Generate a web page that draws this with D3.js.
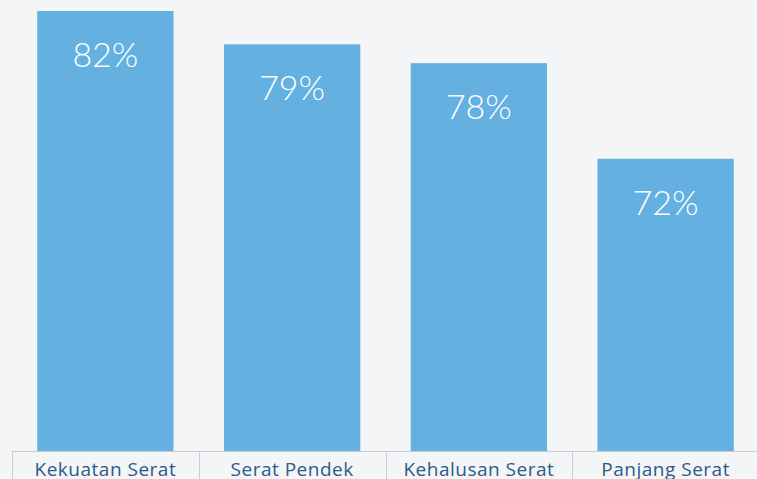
<!DOCTYPE html>
<html><head><meta charset="utf-8">
<script src="https://cdn.jsdelivr.net/npm/d3@7"></script>
<style>html,body{margin:0;padding:0;background:#f4f5f7;}svg{display:block;}</style>
</head><body>
<script>
const categories = ["Kekuatan Serat", "Serat Pendek", "Kehalusan Serat", "Panjang Serat"];
const values = [81.7, 79.4, 78.1, 71.5];
const labels = ["82%", "79%", "78%", "72%"];
const valueDomain = [51.3, 81.7];

const W = 757, H = 479;
const svg = d3.select("body").append("svg").attr("width", W).attr("height", H);
svg.append("rect").attr("width", W).attr("height", H).attr("fill", "#f4f5f7");

const baseY = 451.5;
const x = d3.scaleBand().domain(categories).range([12, 759]).paddingInner(0.27).paddingOuter(0.135);
const xb = d3.scaleBand().domain(categories).range([12, 759]).padding(0);
const y = d3.scaleLinear().domain(valueDomain).range([baseY, 11]);

const data = categories.map((c, i) => ({c, v: values[i], l: labels[i]}));

svg.selectAll("rect.bar").data(data).join("rect").attr("class", "bar")
  .attr("x", d => x(d.c)).attr("width", x.bandwidth())
  .attr("y", d => y(d.v)).attr("height", d => baseY - y(d.v))
  .attr("fill", "#63b0e1");

svg.selectAll("text.val").data(data).join("text").attr("class", "val")
  .attr("x", d => x(d.c) + x.bandwidth() / 2)
  .attr("y", d => y(d.v) + 56)
  .attr("text-anchor", "middle")
  .attr("fill", "#ffffff")
  .attr("font-family", "Lato")
  .attr("font-weight", 300)
  .attr("font-size", 34)
  .text(d => d.l);

// axis lines
svg.append("line").attr("x1", 12).attr("x2", W).attr("y1", baseY).attr("y2", baseY)
  .attr("stroke", "#c9cdd3").attr("stroke-width", 1);
svg.selectAll("line.tick").data(categories).join("line").attr("class", "tick")
  .attr("x1", d => Math.round(xb(d)) + 0.5).attr("x2", d => Math.round(xb(d)) + 0.5)
  .attr("y1", baseY).attr("y2", H)
  .attr("stroke", "#c9cdd3").attr("stroke-width", 1);

svg.selectAll("text.cat").data(categories).join("text").attr("class", "cat")
  .attr("x", d => xb(d) + xb.bandwidth() / 2)
  .attr("y", 475.5)
  .attr("text-anchor", "middle")
  .attr("fill", "#2b5b8c")
  .attr("font-family", "Open Sans")
  .attr("font-size", 19)
  .attr("letter-spacing", 0.5)
  .text(d => d);
</script>
</body></html>
